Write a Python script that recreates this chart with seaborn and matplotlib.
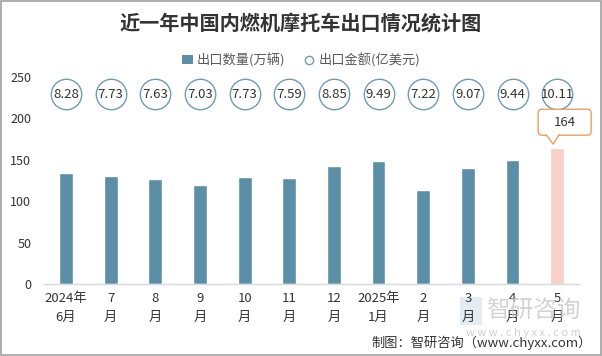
import matplotlib
matplotlib.use("Agg")
import matplotlib.pyplot as plt
import seaborn as sns
import pandas as pd
from matplotlib.patches import Patch, FancyBboxPatch, Polygon, Rectangle
from matplotlib.lines import Line2D

# ---- data ----
categories = ["2024年\n6月", "7\n月", "8\n月", "9\n月", "10\n月", "11\n月",
              "12\n月", "2025年\n1月", "2\n月", "3\n月", "4\n月", "5\n月"]
quantity = [134, 131, 127, 119, 129, 128, 143, 149, 114, 140, 150, 164]   # 万辆
amount = [8.28, 7.73, 7.63, 7.03, 7.73, 7.59, 8.85, 9.49, 7.22, 9.07, 9.44, 10.11]  # 亿美元
y_ticks = [0, 50, 100, 150, 200, 250]

title = "近一年中国内燃机摩托车出口情况统计图"
legend_labels = ["出口数量(万辆)", "出口金额(亿美元)"]
footer = "制图：智研咨询（www.chyxx.com）"

BAR = "#5B8FA7"
HIGHLIGHT = "#F8D0C8"
CIRCLE_EDGE = "#6E9CB2"
CALLOUT = "#E8A060"
TXT = "#333333"

sns.set_theme(style="white")
plt.rcParams["font.family"] = ["Noto Sans CJK SC", "DejaVu Sans"]
NARROW = ["Liberation Sans Narrow", "Noto Sans CJK SC", "DejaVu Sans"]

df = pd.DataFrame({"cat": categories, "qty": quantity})
colors = [BAR] * (len(categories) - 1) + [HIGHLIGHT]

fig = plt.figure(figsize=(6.02, 3.56), dpi=100)
ax = fig.add_axes([0.0726, 0.2022, 0.890, 0.5815])

sns.barplot(data=df, x="cat", y="qty", hue="cat", palette=colors, legend=False,
            width=0.31, ax=ax, saturation=1)

ax.set_xlim(-0.5, len(categories) - 0.5)
ax.set_ylim(0, 250)
ax.set_yticks(y_ticks)
ax.set_xlabel("")
ax.set_ylabel("")
for s in ["top", "right", "left"]:
    ax.spines[s].set_visible(False)
ax.spines["bottom"].set_color("#d9d9d9")
ax.spines["bottom"].set_linewidth(1)
ax.tick_params(axis="both", length=0)
ax.tick_params(axis="y", labelsize=9, labelcolor=TXT, pad=9)
ax.tick_params(axis="x", labelsize=9.5, labelcolor=TXT, pad=6)
for lab in ax.get_xticklabels():
    lab.set_linespacing(1.55)

# circles with amount labels
CIRCLE_Y = 229
xs = list(range(len(categories)))
ax.scatter(xs, [CIRCLE_Y] * len(xs), s=480, facecolor="white",
           edgecolor=CIRCLE_EDGE, linewidth=1, zorder=3, clip_on=False)
for x, v in zip(xs, amount):
    ax.text(x, CIRCLE_Y, f"{v:.2f}", ha="center", va="center", fontsize=9.5,
            color=TXT, zorder=4, family=NARROW)

# callout for last bar
fig.canvas.draw()
last = len(categories) - 1
px, py = ax.transData.transform((last, quantity[last]))
tipx, tipy = px - 4, py + 4
bx0, bx1 = px - 19, px + 34
by0, by1 = tipy + 9, tipy + 35
box = FancyBboxPatch((bx0, by0), bx1 - bx0, by1 - by0,
                     boxstyle="round,pad=0,rounding_size=4",
                     facecolor="white", edgecolor=CALLOUT, linewidth=1,
                     transform=None, zorder=5)
fig.add_artist(box)
tri = Polygon([(tipx - 7, by0 + 0.8), (tipx, tipy), (tipx + 6, by0 + 0.8)],
              closed=False, facecolor="white", edgecolor=CALLOUT, linewidth=1,
              transform=None, zorder=6)
fig.add_artist(tri)
cover = Rectangle((tipx - 6, by0 - 0.2), 11, 1.6, facecolor="white",
                  edgecolor="none", transform=None, zorder=6)
fig.add_artist(cover)
fig.text((bx0 + bx1) / 2 / fig.dpi / 6.02, (by0 + by1) / 2 / fig.dpi / 3.56,
         str(quantity[last]), ha="center", va="center", fontsize=9.5, color=TXT,
         zorder=7, family=NARROW)

# title
fig.text(0.5, 1 - 23 / 356, title, ha="center", va="center", fontsize=14.5,
         fontweight="bold", color=TXT)

# legend
handles = [Patch(facecolor=BAR, edgecolor="none"),
           Line2D([], [], marker="o", linestyle="none", markerfacecolor="white",
                  markeredgecolor=CIRCLE_EDGE, markersize=6)]
fig.legend(handles, legend_labels, loc="center", bbox_to_anchor=(0.5, 1 - 60 / 356),
           ncol=2, frameon=False, fontsize=9.5, labelcolor="#595959",
           handlelength=0.8, handletextpad=0.3, columnspacing=1.4)

# watermark
fig.add_artist(Rectangle((460 / 602, 1 - 325 / 356), 22 / 602, 28 / 356,
                         facecolor="#dde6f0", edgecolor="none", alpha=0.8,
                         transform=fig.transFigure, zorder=0))
fig.text(533 / 602, 1 - 311 / 356, "智研咨询", ha="center", va="center",
         fontsize=17, color="#c8c8c8", alpha=0.8, zorder=0)
fig.text(523 / 602, 1 - 333 / 356, "w w w . c h y x x . c o m", ha="center",
         va="center", fontsize=8, color="#d0d0d0", zorder=0)

# footer
fig.text(592 / 602, 1 - 343 / 356, footer, ha="right", va="center",
         fontsize=9.5, color=TXT)

# figure border
fig.add_artist(Rectangle((0.001, 0.002), 0.997, 0.995, fill=False,
                         edgecolor="#a0a0a0", linewidth=1.2,
                         transform=fig.transFigure))

fig.savefig("out.png", dpi=100)
